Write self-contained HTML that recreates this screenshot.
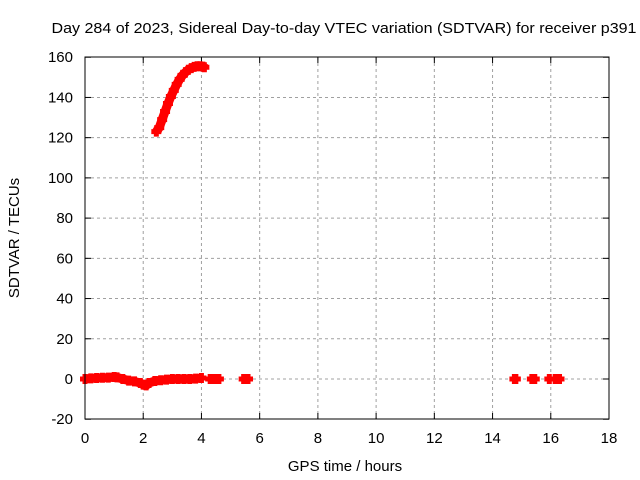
<!DOCTYPE html>
<html><head><meta charset="utf-8"><style>
body{margin:0;background:#fff}
svg{display:block;font-family:"Liberation Sans",sans-serif}
</style></head><body>
<svg id="chart" width="640" height="480">
<text x="344" y="33" font-size="15" text-anchor="middle" textLength="585" lengthAdjust="spacingAndGlyphs">Day 284 of 2023, Sidereal Day-to-day VTEC variation (SDTVAR) for receiver p391</text>
<g id="grid"></g><g id="ticks"></g><g id="series"></g>
<rect x="85" y="57" width="524" height="362" fill="none" stroke="#000" stroke-width="1"/>
<text x="345" y="471" font-size="15" text-anchor="middle">GPS time / hours</text>
<text transform="translate(19,238) rotate(-90)" font-size="15" text-anchor="middle">SDTVAR / TECUs</text>
</svg>
<script>
const xTicks=[0,2,4,6,8,10,12,14,16,18];
const yTicks=[-20,0,20,40,60,80,100,120,140,160];
const upperX=[2.45,2.55,2.65,2.75,2.85,2.95,3.05,3.15,3.25,3.35,3.45,3.55,3.65,3.75,3.85,3.95,4.05,4.1];
const upperY=[123,125,129,133,137,140.5,143.5,146.5,149,151,152.5,153.8,154.6,155.2,155.5,155.5,155.3,155];
const lowerX=[0,0.2,0.4,0.6,0.8,1.0,1.1,1.3,1.5,1.7,1.9,2.0,2.1,2.2,2.4,2.6,2.8,3.0,3.2,3.4,3.6,3.8,4.0];
const lowerY=[0,0.3,0.5,0.6,0.7,1.0,0.8,0,-0.8,-1.2,-2,-2.8,-3.2,-2,-1,-0.6,-0.3,0,0,0,0,0.2,0.5];
const clusterX=[4.3,4.45,4.6,5.45,5.6,14.75,14.8,15.35,15.45,15.95,16.15,16.3];
const clusterY=[0,0,0,0,0,0,0,0,0,0,0,0];
const X=v=>85+(v-0)/18*524, Y=v=>379-v*(362/180);
const NS="http://www.w3.org/2000/svg";
function mk(t,a,p){const e=document.createElementNS(NS,t);for(const k in a)e.setAttribute(k,a[k]);p.appendChild(e);return e;}
const grid=document.getElementById('grid'),ticks=document.getElementById('ticks'),ser=document.getElementById('series');
xTicks.forEach(t=>{
 if(t>0&&t<18){const l=mk('line',{x1:X(t),x2:X(t),y1:57,y2:419,stroke:'#a0a0a0','stroke-dasharray':'3,3'},grid);
 }
 mk('line',{x1:X(t),x2:X(t),y1:419,y2:413,stroke:'#000'},ticks);mk('line',{x1:X(t),x2:X(t),y1:57,y2:63,stroke:'#000'},ticks);
 const tx=mk('text',{x:X(t),y:443,'font-size':15,'text-anchor':'middle'},ticks);tx.textContent=t;
 
});
yTicks.forEach(t=>{
 if(t>-20&&t<160){const l=mk('line',{x1:85,x2:609,y1:Y(t),y2:Y(t),stroke:'#a0a0a0','stroke-dasharray':'3,3'},grid);
 }
 mk('line',{x1:85,x2:91,y1:Y(t),y2:Y(t),stroke:'#000'},ticks);mk('line',{x1:609,x2:603,y1:Y(t),y2:Y(t),stroke:'#000'},ticks);
 const tx=mk('text',{x:73,y:Y(t)+5,'font-size':15,'text-anchor':'end'},ticks);tx.textContent=t;
 
});
function line(xs,ys,name){
 const p=mk('polyline',{points:xs.map((x,i)=>X(x)+','+Y(ys[i])).join(' '),fill:'none',stroke:'#f00','stroke-width':9},ser);
 
}
function marks(xs,ys){
 xs.forEach((x,i)=>{const cx=X(x),cy=Y(ys[i]);
  const g=mk('path',{d:`M${cx-5},${cy}H${cx+5}M${cx},${cy-5}V${cy+5}`,stroke:'#f00','stroke-width':5},ser);
  });
}
line(upperX,upperY,'upper-series-line');marks(upperX,upperY);
line(lowerX,lowerY,'lower-series-line');marks(lowerX,lowerY);
marks(clusterX,clusterY);
</script>
</body></html>
